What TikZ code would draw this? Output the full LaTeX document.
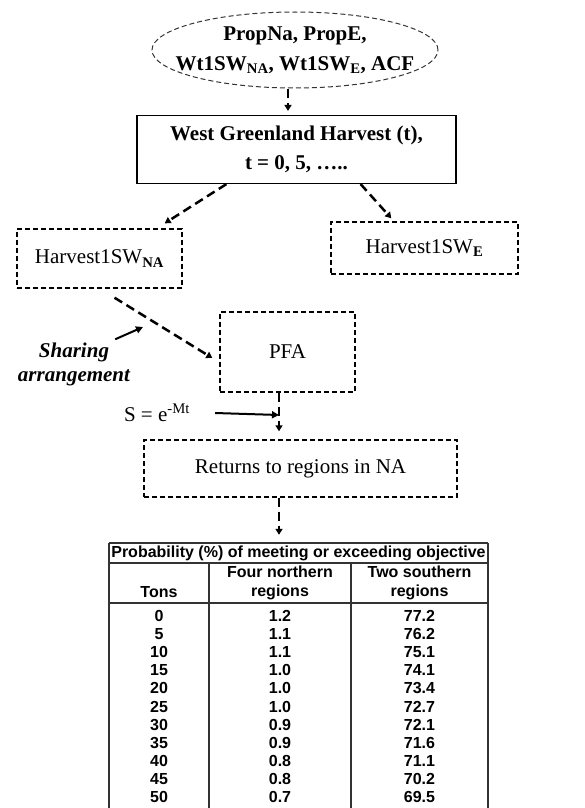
\documentclass[tikz,border=0pt]{standalone}
\usepackage{fontspec}
\setmainfont{Liberation Serif}
\newfontfamily\tabfont{Liberation Sans}
\usetikzlibrary{arrows.meta}
\begin{document}
\begin{tikzpicture}[x=1pt,y=-1pt,
    txt/.style={font=\fontsize{21}{29}\selectfont,align=center,inner sep=0pt},
    dbox/.style={txt,draw,line width=1.4pt,dash pattern=on 5pt off 3pt},
    flow/.style={line width=2.5pt,dash pattern=on 9pt off 5pt,-{Triangle[width=7pt,length=6pt]}},
    push/.style={line width=2pt,-{Triangle[width=7pt,length=7pt]}},
    tline/.style={line width=1.2pt,black!80},
    cell/.style={font=\tabfont\bfseries\fontsize{16}{19}\selectfont,align=center,inner sep=0pt}]
  \useasboundingbox (0,0) rectangle (585,808);
  \node[txt,font=\bfseries\fontsize{21}{30}\selectfont] (par) at (295,50) {PropNa, PropE,\\Wt1SW\textsubscript{NA}, Wt1SW\textsubscript{E}, ACF};
  \draw[line width=1pt,dash pattern=on 5pt off 3pt,black!80] (par.center) ellipse [x radius=143pt,y radius=38pt];
  \node[txt,font=\bfseries\fontsize{21}{29}\selectfont,draw,line width=1.2pt,minimum width=319pt,minimum height=68pt] (wgh) at (296.5,149.5) {West Greenland Harvest (t),\\t = 0, 5, …..};
  \node[dbox,minimum width=165pt,minimum height=59pt] (hna) at (99.5,258.5) {Harvest1SW\textsubscript{\bfseries NA}};
  \node[dbox,minimum width=187pt,minimum height=52pt] (hne) at (424.5,248) {Harvest1SW\textsubscript{\bfseries E}};
  \node[dbox,minimum width=135pt,minimum height=80pt] (pfa) at (287.5,352) {PFA};
  \node[dbox,minimum width=313pt,minimum height=57pt] (ret) at (300.5,468.5) {Returns to regions in NA};
  \node[txt,font=\bfseries\itshape\fontsize{21}{24}\selectfont] (shr) at (74,364) {Sharing\\arrangement};
  \node[txt] (stxt) at (157,413) {S = e\textsuperscript{-Mt}};
  \coordinate (shp) at (143,327);
  \coordinate (jn) at (279,415);
  \draw[flow] ([xshift=-7pt,yshift=-39pt]par.center) -- ([xshift=-8.5pt,yshift=4pt]wgh.north);
  \draw[flow] ([xshift=90pt]wgh.south west) -- ([xshift=-18pt,yshift=5pt]hna.north east);
  \draw[flow] ([xshift=-96pt]wgh.south east) -- ([xshift=61pt,yshift=3pt]hne.north west);
  \draw[flow] ([xshift=15pt,yshift=-9pt]hna.south) -- ([xshift=-7pt,yshift=-6pt]pfa.west);
  \draw[push] ([shift={(-15pt,3pt)}]shr.north east) -- (shp);
  \draw[flow] ([xshift=-8.5pt]pfa.south) -- ([xshift=-21.5pt,yshift=8pt]ret.north);
  \draw[push] ([xshift=25pt]stxt.east) -- (jn);
  \node[cell,minimum width=379pt,minimum height=20pt] (ttl) at (298.5,553) {Probability (\%) of meeting or exceeding objective};
  \draw[flow] ([xshift=-21.5pt]ret.south) -- ([xshift=-19.5pt,yshift=8pt]ttl.north);
  \draw[tline] (109,543) -- (488,543) (109,543) -- (109,808) (488,543) -- (488,808)
    (109,563) -- (488,563) (109,603) -- (488,603) (209,563) -- (209,808) (351,563) -- (351,808);
  \node[cell] (hton) at (159,592) {Tons};
  \node[cell] (hfour) at (280,582.5) {Four northern\\regions};
  \node[cell] (htwo) at (419.5,582.5) {Two southern\\regions};
  \foreach \t/\n/\s [count=\i from 0] in {0/1.2/77.2,5/1.1/76.2,10/1.1/75.1,15/1.0/74.1,20/1.0/73.4,25/1.0/72.7,30/0.9/72.1,35/0.9/71.6,40/0.8/71.1,45/0.8/70.2,50/0.7/69.5}
  {
    \node[cell] (t\i) at (159,{616+18.1*\i}) {\t};
    \node[cell] (n\i) at (280,{616+18.1*\i}) {\n};
    \node[cell] (s\i) at (419.5,{616+18.1*\i}) {\s};
  }
\end{tikzpicture}
\end{document}
